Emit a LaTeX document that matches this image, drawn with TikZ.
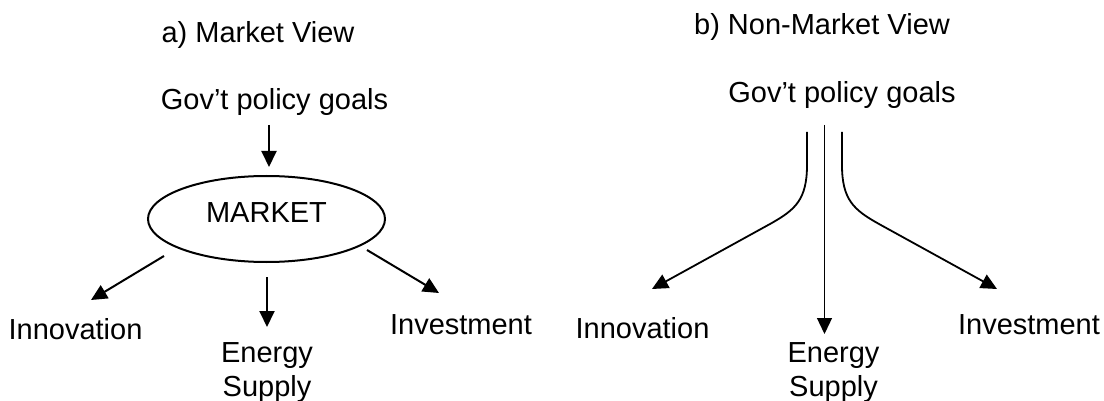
\documentclass[tikz,border=0pt]{standalone}
\usepackage{fontspec}
\setmainfont{Liberation Sans}
\usetikzlibrary{arrows.meta,shapes.geometric}

\tikzset{
	lbl/.style={anchor=base, inner sep=0pt, font=\fontsize{29}{34}\selectfont},
	arr/.style={-{Triangle[length=16pt,width=15pt]}, line width=2pt},
	mkt/.style={ellipse, draw, line width=2pt, inner sep=0pt, minimum width=237pt, minimum height=86pt, text depth=12pt, font=\fontsize{29}{34}\selectfont},
}

\begin{document}
\begin{tikzpicture}[x=1pt,y=-1pt]

	\useasboundingbox (0,0) rectangle (1104,401);

	% a) market view
	\node 	(a0)	at	(258,43) 	[lbl]{a) Market View};
	\node 	(a1)	at	(274.5,110) 	[lbl]{Gov’t policy goals};
	\node 	(a2)	at	(266.5,219) 	[mkt]{MARKET};
	\node 	(a3)	at	(75.5,339) 	[lbl]{Innovation};
	\node 	(a4)	at	(267,396) 	[lbl,align=center]{Energy\\Supply};
	\node 	(a5)	at	(461,334) 	[lbl]{Investment};

	\coordinate	(p0)	at	(269,125);
	\coordinate	(p1)	at	(269,167);
	\coordinate	(p2)	at	(164,256);
	\coordinate	(p3)	at	(91,300);
	\coordinate	(p4)	at	(267,277);
	\coordinate	(p5)	at	(267,327);
	\coordinate	(p6)	at	(367,250);
	\coordinate	(p7)	at	(439,293);

	\draw[arr]	(p0)	to	(p1);
	\draw[arr]	(p2)	to	(p3);
	\draw[arr]	(p4)	to	(p5);
	\draw[arr]	(p6)	to	(p7);

	% b) non-market view
	\node 	(b0)	at	(822,35) 	[lbl]{b) Non-Market View};
	\node 	(b1)	at	(842,103) 	[lbl]{Gov’t policy goals};
	\node 	(b3)	at	(642.5,338) 	[lbl]{Innovation};
	\node 	(b4)	at	(833.5,396) 	[lbl,align=center]{Energy\\Supply};
	\node 	(b5)	at	(1029,334) 	[lbl]{Investment};

	\coordinate	(q0)	at	(807,132);
	\coordinate	(q1)	at	(652,289);
	\coordinate	(q2)	at	(824.5,125);
	\coordinate	(q3)	at	(824.5,334);
	\coordinate	(q4)	at	(842,132);
	\coordinate	(q5)	at	(997,289);

	\draw[arr, line width=1.8pt]	(q0)	-- ++(0,33) .. controls ++(0,35) and (795,210) .. (770,224) --	(q1);
	\draw[arr, line width=1.3pt]	(q2)	to	(q3);
	\draw[arr, line width=1.8pt]	(q4)	-- ++(0,33) .. controls ++(0,35) and (854,210) .. (879,224) --	(q5);

\end{tikzpicture}
\end{document}
